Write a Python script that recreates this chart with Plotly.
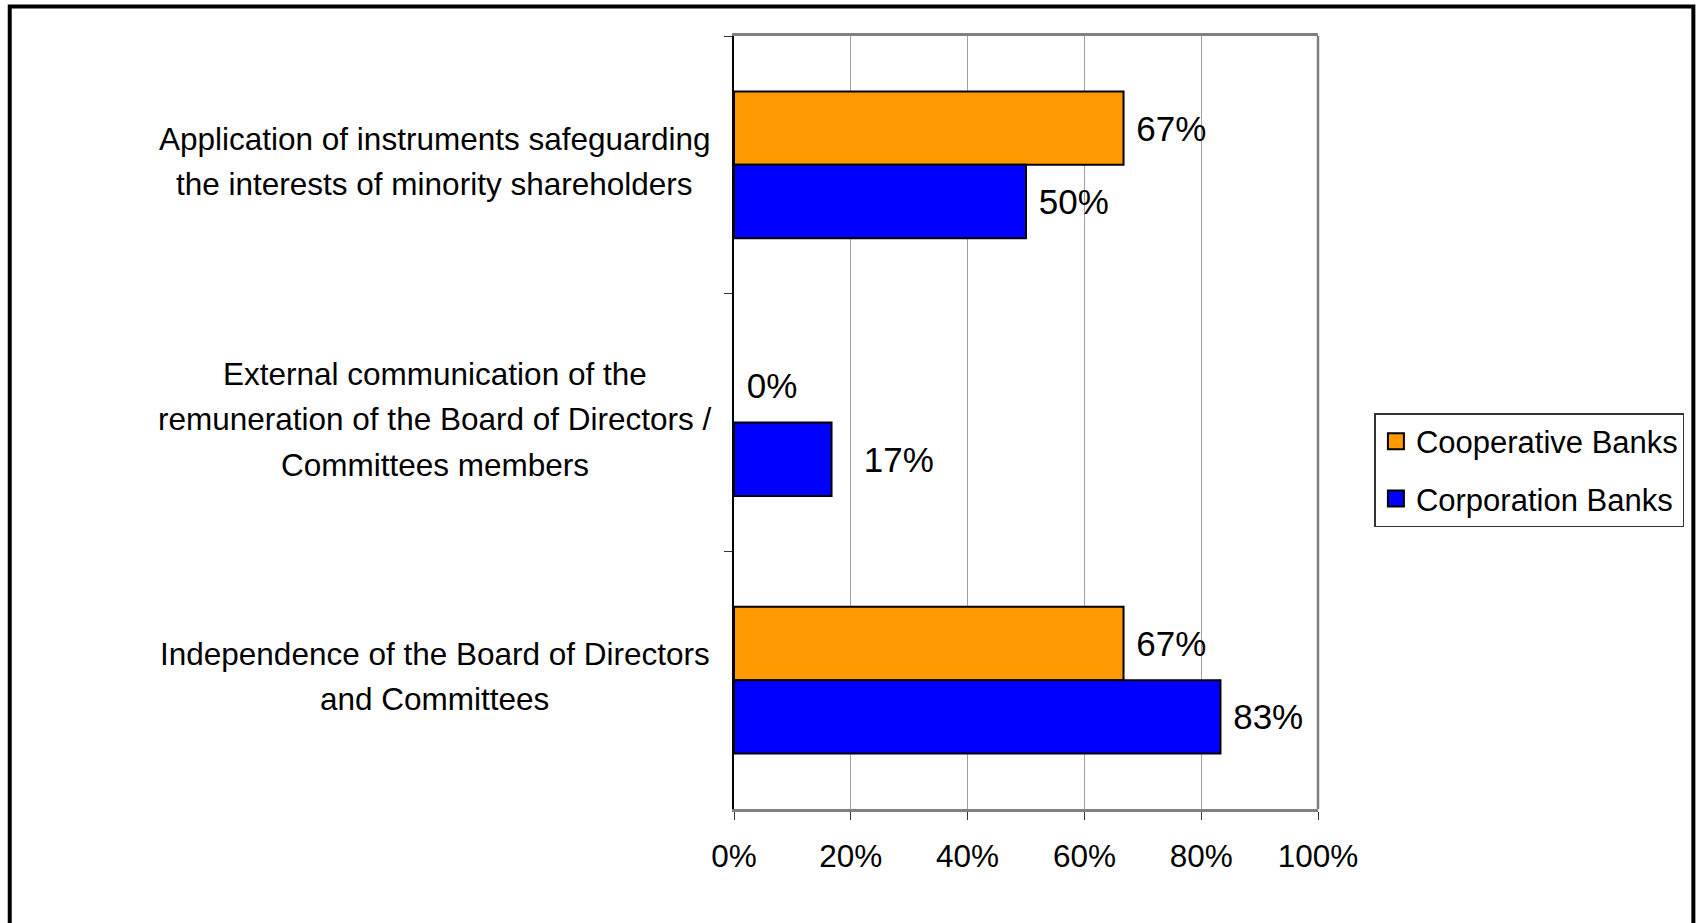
import plotly.graph_objects as go

# Survey results by governance topic (share of banks, %)
categories = [
    "Application of instruments safeguarding<br>the interests of minority shareholders",
    "External communication of the<br>remuneration of the Board of Directors /<br>Committees members",
    "Independence of the Board of Directors<br>and Committees",
]
cooperative = [66.7, 0.0, 66.7]
corporation = [50.0, 16.7, 83.3]
series_names = ["Cooperative Banks", "Corporation Banks"]
series_colors = ["#FF9900", "#0000FF"]
x_ticks = [0, 20, 40, 60, 80, 100]
x_tick_labels = ["0%", "20%", "40%", "60%", "80%", "100%"]

W, H = 1699, 923
L, R, T, B = 733.5, 380.5, 36, 114
pw, ph = W - L - R, H - T - B

FONT = "Liberation Sans, Arial, sans-serif"
NBSP = "\u00a0"

fig = go.Figure()
for name, vals, col in zip(series_names, [cooperative, corporation], series_colors):
    # short bars get their label pushed a little further out
    templates = [(NBSP * (3 if 0 < v < 30 else 1)) + "%{x:.0f}%" for v in vals]
    fig.add_trace(go.Bar(
        y=categories, x=vals, orientation="h", name=name,
        marker=dict(color=col,
                    line=dict(color="black", width=[2 if v > 0 else 0 for v in vals])),
        texttemplate=templates, textposition="outside",
        textfont=dict(family=FONT, size=35, color="black"),
        cliponaxis=False, showlegend=False,
    ))
    # legend swatch
    fig.add_trace(go.Scatter(
        x=[None], y=[None], mode="markers", name=name, legendgroup=name,
        marker=dict(symbol="square", size=18, color=col,
                    line=dict(color="black", width=2)),
    ))

# category labels, centred to the left of the plot, one annotation per line
LINE_H = 45.5
for c in categories:
    lines = c.split("<br>")
    n = len(lines)
    for i, line in enumerate(lines):
        fig.add_annotation(
            x=(433.5 - L) / pw, xref="paper", y=c, yref="y",
            text=line, showarrow=False, xanchor="center", yanchor="middle",
            yshift=3.5 + ((n - 1) / 2 - i) * LINE_H,
            font=dict(family=FONT, size=31.5, color="black"),
        )

# gray frame on the right side of the plot area
fig.add_shape(type="line", xref="paper", yref="paper", x0=1, x1=1, y0=0, y1=1,
              line=dict(color="#808080", width=2.5))
# outer border of the chart (bottom edge runs past the page)
fig.add_shape(type="rect", xref="paper", yref="paper",
              x0=(8 - L) / pw, x1=(1694.5 - L) / pw,
              y0=(H - B - 960) / ph, y1=(H - B - 6.5) / ph,
              line=dict(color="black", width=4))

fig.update_layout(
    width=W, height=H,
    margin=dict(l=L, r=R, t=T, b=B, autoexpand=False),
    paper_bgcolor="white", plot_bgcolor="white",
    barmode="group", bargap=0.43, bargroupgap=0,
    font=dict(family=FONT, color="black"),
    legend=dict(
        x=(1375 - L) / pw, y=(H - B - 413) / ph, xanchor="left", yanchor="top",
        bordercolor="#333333", borderwidth=1.5, bgcolor="white",
        font=dict(family=FONT, size=31, color="black"),
        tracegroupgap=14, itemsizing="trace",
    ),
    xaxis=dict(
        range=[0, 100], tickvals=x_ticks, ticktext=x_tick_labels,
        showgrid=True, gridcolor="#a0a0a0", gridwidth=1,
        showline=True, linecolor="#808080", linewidth=2.5, mirror=True,
        ticks="outside", ticklen=8, tickcolor="#333333", tickwidth=1.2,
        zeroline=False, ticklabelstandoff=9,
        tickfont=dict(family=FONT, size=31.5, color="black"),
    ),
    yaxis=dict(
        autorange="reversed", showticklabels=False,
        showline=True, linecolor="black", linewidth=1.5,
        ticks="outside", tickson="boundaries", ticklen=8,
        tickcolor="#333333", tickwidth=1.2, showgrid=False,
    ),
)

fig.write_html("out.html")
